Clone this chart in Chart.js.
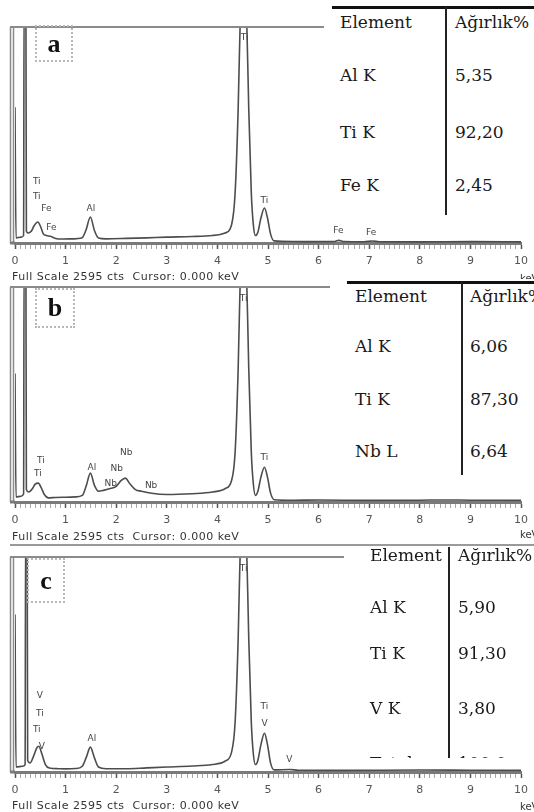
<!DOCTYPE html>
<html>
<head>
<meta charset="utf-8">
<script src="https://cdn.jsdelivr.net/npm/chart.js@4.4.1/dist/chart.umd.min.js"></script>
<style>
  html, body { margin: 0; padding: 0; background: #fff; }
  #page { position: relative; width: 534px; height: 812px; overflow: hidden; background: #fff; }
  #page canvas { position: absolute; left: 0; }
  .tbl { position: absolute; background: #fff; overflow: hidden; }
  .tbl .hl { position: absolute; height: 3px; background: #111; }
  .tbl .vl { position: absolute; width: 2px; background: #222; }
  .tbl .t { position: absolute; font-family: 'DejaVu Serif', serif; font-size: 17px; line-height: 20px;
            color: #1a1a1a; white-space: nowrap; }
  .fs { position: absolute; left: 12px; font-family: 'DejaVu Sans', sans-serif; font-size: 11px;
        letter-spacing: 0.5px; line-height: 12px; color: #333; white-space: nowrap; }
  .kev { position: absolute; font-family: 'DejaVu Sans', sans-serif; font-size: 10px; line-height: 12px; color: #333; }
  .tag { position: absolute; box-sizing: border-box; border: 2px dotted #b8b8b8; display: flex;
         align-items: center; justify-content: center; font-family: 'Liberation Serif', serif;
         font-weight: bold; font-size: 26px; color: #111; }
  .rule { position: absolute; height: 2px; background: #9a9a9a; }
</style>
</head>
<body>
<div id="page">
  <canvas id="specA" width="534" height="260" style="top:17px"></canvas>
  <canvas id="specB" width="534" height="259" style="top:277px"></canvas>
  <canvas id="specC" width="534" height="259" style="top:547px"></canvas>

  <div class="tag" style="left:35px;top:25px;width:38px;height:37px">a</div>
  <div class="tag" style="left:35px;top:288px;width:40px;height:40px">b</div>
  <div class="tag" style="left:27px;top:558px;width:38px;height:45px">c</div>

  <div class="fs" style="top:271px">Full Scale 2595 cts&nbsp; Cursor: 0.000 keV</div>
  <div class="fs" style="top:531px">Full Scale 2595 cts&nbsp; Cursor: 0.000 keV</div>
  <div class="fs" style="top:800px">Full Scale 2595 cts&nbsp; Cursor: 0.000 keV</div>
  <div class="kev" style="left:520px;top:273px">keV</div>
  <div class="kev" style="left:520px;top:529px">keV</div>
  <div class="kev" style="left:520px;top:801px">keV</div>

  <div class="rule" style="left:10px;top:544px;width:524px"></div>
</div>

<script>
'use strict';

/* ── Spectrum a (Ti-Al-Fe) ─────────────────────────── */
const energyA = [0, 0.02, 0.12, 0.17, 0.18, 0.215, 0.225, 0.26, 0.32, 0.38, 0.45, 0.51, 0.56, 0.62, 0.70,
                 0.80, 0.95, 1.15, 1.32, 1.40, 1.49, 1.57, 1.65, 1.80, 2.2, 2.6, 3.0, 3.5, 3.9, 4.15,
                 4.28, 4.35, 4.41, 4.46, 4.51, 4.57, 4.62, 4.67, 4.71, 4.75, 4.80, 4.86, 4.93, 4.99, 5.05,
                 5.12, 5.5, 6.0, 6.3, 6.4, 6.5, 6.9, 7.06, 7.2, 8.0, 9.0, 10.0];
const countsA = [1630, 60, 70, 90, 3000, 3000, 140, 120, 140, 210, 252, 190, 110, 90, 80,
                 55, 48, 50, 60, 150, 312, 150, 60, 50, 55, 62, 70, 78, 90, 120,
                 220, 600, 1600, 2900, 3300, 2900, 1600, 600, 220, 90, 130, 300, 420, 300, 110,
                 25, 18, 16, 18, 32, 18, 15, 24, 15, 14, 16, 14];
const peakTextA = ['Ti', 'Ti', 'Fe', 'Fe', 'Al', 'Ti', 'Ti', 'Fe', 'Fe'];
const peakKevA  = [0.43, 0.43, 0.62, 0.72, 1.50, 4.54, 4.93, 6.39, 7.04];
const peakCtsA  = [732, 552, 408, 180, 408, 2472, 504, 144, 120];

/* ── Spectrum b (Ti-Al-Nb) ─────────────────────────── */
const energyB = [0, 0.02, 0.12, 0.17, 0.18, 0.215, 0.225, 0.27, 0.33, 0.40, 0.46, 0.52, 0.58, 0.66, 0.80,
                 1.0, 1.2, 1.33, 1.41, 1.49, 1.57, 1.65, 1.75, 1.9, 2.0, 2.1, 2.18, 2.27, 2.38, 2.5,
                 2.7, 3.0, 3.5, 3.9, 4.15, 4.28, 4.35, 4.41, 4.46, 4.51, 4.57, 4.62, 4.67, 4.71, 4.75,
                 4.80, 4.86, 4.93, 4.99, 5.05, 5.12, 5.5, 6.0, 7.0, 8.0, 8.5, 9.0, 10.0];
const countsB = [1550, 60, 70, 100, 3000, 3000, 150, 120, 150, 215, 228, 170, 90, 50, 55,
                 58, 62, 80, 200, 348, 200, 130, 140, 165, 190, 260, 288, 220, 150, 130,
                 105, 90, 100, 120, 160, 260, 600, 1600, 2900, 3300, 2900, 1600, 600, 220, 80,
                 130, 300, 420, 300, 110, 28, 22, 24, 20, 22, 25, 22, 20];
const peakTextB = ['Ti', 'Ti', 'Al', 'Nb', 'Nb', 'Nb', 'Nb', 'Ti', 'Ti'];
const peakKevB  = [0.51, 0.45, 1.52, 2.20, 2.01, 1.89, 2.69, 4.52, 4.93];
const peakCtsB  = [504, 348, 420, 600, 408, 216, 192, 2460, 540];

/* ── Spectrum c (Ti-Al-V) ──────────────────────────── */
const energyC = [0, 0.02, 0.15, 0.20, 0.21, 0.24, 0.25, 0.30, 0.36, 0.43, 0.47, 0.53, 0.60, 0.68, 0.85,
                 1.0, 1.2, 1.33, 1.41, 1.49, 1.57, 1.65, 1.8, 2.2, 2.6, 3.0, 3.5, 3.9, 4.15, 4.28,
                 4.35, 4.41, 4.46, 4.51, 4.57, 4.62, 4.67, 4.71, 4.75, 4.80, 4.86, 4.93, 4.99, 5.05, 5.12,
                 5.43, 5.6, 6.5, 8.0, 9.0, 10.0];
const countsC = [1900, 60, 70, 90, 3000, 3000, 140, 110, 180, 290, 310, 220, 90, 48, 40,
                 38, 42, 70, 180, 300, 170, 60, 40, 40, 50, 60, 72, 90, 130, 240,
                 600, 1600, 2900, 3300, 2900, 1600, 600, 220, 90, 140, 330, 468, 330, 110, 26,
                 30, 22, 20, 24, 22, 20];
const peakTextC = ['V', 'Ti', 'Ti', 'V', 'Al', 'Ti', 'Ti', 'V', 'V'];
const peakKevC  = [0.49, 0.49, 0.43, 0.53, 1.52, 4.52, 4.93, 4.93, 5.42];
const peakCtsC  = [924, 708, 516, 300, 408, 2460, 792, 588, 144];

/* ── Composition tables ────────────────────────────── */
const tableHead = ['Element', 'Ağırlık%'];
const elementsA = ['Al K', 'Ti K', 'Fe K'];
const weightsA  = ['5,35', '92,20', '2,45'];
const elementsB = ['Al K', 'Ti K', 'Nb L'];
const weightsB  = ['6,06', '87,30', '6,64'];
const elementsC = ['Al K', 'Ti K', 'V K', 'Total'];
const weightsC  = ['5,90', '91,30', '3,80', '100,0'];

const FULL_SCALE = 2595;

/* ── Helpers ───────────────────────────────────────── */
const isMajor = v => Math.abs(v - Math.round(v)) < 1e-6;

// grey frame around the spectrum window (top edge + double left edge)
const framePlugin = {
  id: 'frame',
  afterDraw(chart) {
    const { ctx, chartArea } = chart;
    const { left, top, bottom } = chartArea;
    ctx.save();
    ctx.strokeStyle = '#8a8a8a';
    ctx.lineWidth = 2;
    ctx.beginPath();
    ctx.moveTo(10, top);
    ctx.lineTo(chart.width, top);
    ctx.stroke();
    ctx.lineWidth = 1.5;
    ctx.beginPath();
    ctx.moveTo(10.5, top); ctx.lineTo(10.5, bottom);
    ctx.moveTo(13.5, top); ctx.lineTo(13.5, bottom);
    ctx.stroke();
    ctx.strokeStyle = '#7a7a7a';
    ctx.lineWidth = 3;
    ctx.beginPath();
    ctx.moveTo(10, bottom);
    ctx.lineTo(left, bottom);
    ctx.stroke();
    ctx.restore();
  }
};

function makeSpectrum(id, padTop, energy, counts, peakText, peakKev, peakCts) {
  const peakPlugin = {
    id: 'peaks',
    afterDatasetsDraw(chart) {
      const { ctx, scales: { x, y } } = chart;
      ctx.save();
      ctx.font = '9px "DejaVu Sans", sans-serif';
      ctx.fillStyle = '#444';
      ctx.textAlign = 'center';
      ctx.textBaseline = 'middle';
      peakText.forEach((t, i) => {
        ctx.fillText(t, x.getPixelForValue(peakKev[i]), y.getPixelForValue(peakCts[i]));
      });
      ctx.restore();
    }
  };

  return new Chart(document.getElementById(id).getContext('2d'), {
    type: 'line',
    data: {
      datasets: [{
        data: energy.map((e, i) => ({ x: e, y: counts[i] })),
        borderColor: '#4d4d4d',
        borderWidth: 1.6,
        pointRadius: 0,
        cubicInterpolationMode: 'monotone',
        fill: false
      }]
    },
    options: {
      responsive: false,
      animation: false,
      events: [],
      layout: { padding: { top: padTop, left: 15, right: 6, bottom: 2.8 } },
      plugins: { legend: { display: false }, tooltip: { enabled: false } },
      scales: {
        x: {
          type: 'linear',
          min: 0,
          max: 10,
          ticks: {
            stepSize: 0.1,
            autoSkip: false,
            maxRotation: 0,
            minRotation: 0,
            padding: 6,
            color: '#555',
            font: { family: 'DejaVu Sans', size: 11 },
            callback: v => (isMajor(v) ? String(Math.round(v)) : '')
          },
          grid: {
            drawOnChartArea: false,
            drawTicks: true,
            tickLength: 6,
            tickColor: c => (c.tick && isMajor(c.tick.value) ? '#555' : '#a8a8a8'),
            tickWidth: c => (c.tick && isMajor(c.tick.value) ? 1.5 : 1)
          },
          border: { display: true, color: '#7a7a7a', width: 3 }
        },
        y: { display: false, min: 0, max: FULL_SCALE }
      }
    },
    plugins: [framePlugin, peakPlugin]
  });
}

function makeTable(box, lines, rows, elements, weights) {
  const page = document.getElementById('page');
  const el = document.createElement('div');
  el.className = 'tbl';
  Object.assign(el.style, {
    left: box.left + 'px', top: box.top + 'px', width: box.width + 'px', height: box.height + 'px'
  });
  if (lines.h) {
    const h = document.createElement('div');
    h.className = 'hl';
    Object.assign(h.style, { left: lines.h.left + 'px', top: lines.h.top + 'px', width: (box.width - lines.h.left) + 'px' });
    el.appendChild(h);
  }
  const v = document.createElement('div');
  v.className = 'vl';
  Object.assign(v.style, { left: lines.v.left + 'px', top: lines.v.top + 'px', height: lines.v.height + 'px' });
  el.appendChild(v);

  const addText = (txt, x, y) => {
    const t = document.createElement('div');
    t.className = 't';
    t.textContent = txt;
    t.style.left = x + 'px';
    t.style.top = y + 'px';
    el.appendChild(t);
  };
  addText(tableHead[0], rows.col1, rows.head);
  addText(tableHead[1], rows.col2, rows.head);
  elements.forEach((e, i) => {
    addText(e, rows.col1, rows.ys[i]);
    addText(weights[i], rows.col2, rows.ys[i]);
  });
  page.appendChild(el);
}

/* ── Boot ──────────────────────────────────────────── */
makeSpectrum('specA', 10, energyA, countsA, peakTextA, peakKevA, peakCtsA);
makeSpectrum('specB', 10, energyB, countsB, peakTextB, peakKevB, peakCtsB);
makeSpectrum('specC', 10, energyC, countsC, peakTextC, peakKevC, peakCtsC);

makeTable({ left: 324, top: 0, width: 210, height: 220 },
  { h: { left: 8, top: 6 }, v: { left: 121, top: 7, height: 208 } },
  { col1: 16, col2: 131, head: 12, ys: [65, 122, 175] },
  elementsA, weightsA);

makeTable({ left: 330, top: 279, width: 204, height: 200 },
  { h: { left: 17, top: 2 }, v: { left: 131, top: 3, height: 193 } },
  { col1: 25, col2: 140, head: 7, ys: [57, 110, 162] },
  elementsB, weightsB);

makeTable({ left: 344, top: 547, width: 190, height: 211 },
  { v: { left: 104, top: 0, height: 211 } },
  { col1: 26, col2: 114, head: -2, ys: [50, 96, 151, 206] },
  elementsC, weightsC);
</script>
</body>
</html>
